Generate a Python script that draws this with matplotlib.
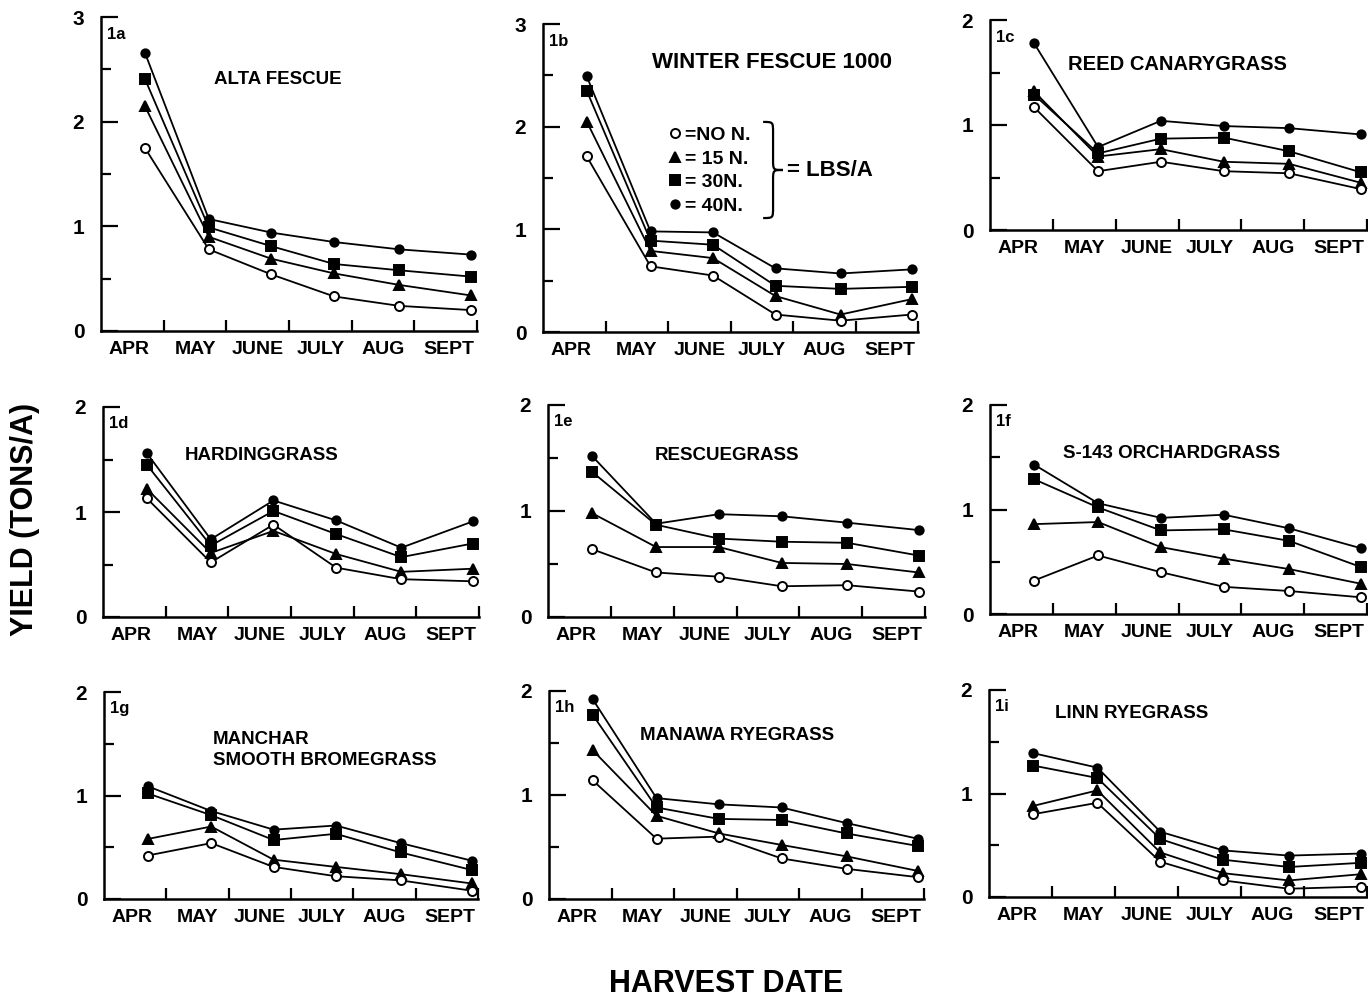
import matplotlib
matplotlib.use("Agg")
import matplotlib.pyplot as plt
from matplotlib.lines import Line2D
from matplotlib.path import Path
from matplotlib.patches import PathPatch

## data ##

MONTHS = ["APR", "MAY", "JUNE", "JULY", "AUG", "SEPT"]
# harvest position along the month axis (month slots 0..6)
HARVEST_X = [0.7, 1.72, 2.72, 3.72, 4.76, 5.9]
RATES = ["NO N.", "15 N.", "30N.", "40N."]

# rows: no N, 15 N, 30 N, 40 N  (tons/A)
alta_fescue = [[1.75, 0.78, 0.54, 0.33, 0.24, 0.20],
               [2.15, 0.90, 0.69, 0.55, 0.44, 0.34],
               [2.41, 0.99, 0.81, 0.64, 0.58, 0.52],
               [2.66, 1.07, 0.94, 0.85, 0.78, 0.73]]
winter_fescue = [[1.71, 0.64, 0.55, 0.17, 0.11, 0.17],
                 [2.05, 0.79, 0.72, 0.35, 0.17, 0.32],
                 [2.35, 0.89, 0.85, 0.45, 0.42, 0.44],
                 [2.49, 0.98, 0.97, 0.62, 0.57, 0.61]]
reed_canarygrass = [[1.17, 0.56, 0.65, 0.56, 0.54, 0.39],
                    [1.32, 0.70, 0.77, 0.65, 0.63, 0.45],
                    [1.29, 0.73, 0.87, 0.88, 0.75, 0.55],
                    [1.78, 0.79, 1.04, 0.99, 0.97, 0.91]]
hardinggrass = [[1.13, 0.52, 0.88, 0.47, 0.36, 0.34],
                [1.22, 0.61, 0.82, 0.60, 0.43, 0.46],
                [1.45, 0.68, 1.01, 0.79, 0.57, 0.70],
                [1.56, 0.74, 1.11, 0.92, 0.66, 0.91]]
rescuegrass = [[0.64, 0.42, 0.38, 0.29, 0.30, 0.24],
               [0.98, 0.66, 0.66, 0.51, 0.50, 0.42],
               [1.37, 0.87, 0.74, 0.71, 0.70, 0.58],
               [1.52, 0.88, 0.97, 0.95, 0.89, 0.82]]
orchardgrass = [[0.32, 0.56, 0.40, 0.26, 0.22, 0.16],
                [0.86, 0.88, 0.64, 0.53, 0.43, 0.29],
                [1.29, 1.02, 0.80, 0.81, 0.70, 0.45],
                [1.43, 1.06, 0.92, 0.95, 0.82, 0.63]]
bromegrass = [[0.42, 0.54, 0.31, 0.22, 0.18, 0.08],
              [0.58, 0.70, 0.38, 0.31, 0.24, 0.15],
              [1.02, 0.81, 0.57, 0.63, 0.45, 0.28],
              [1.09, 0.85, 0.67, 0.71, 0.54, 0.37]]
manawa_ryegrass = [[1.14, 0.58, 0.60, 0.39, 0.29, 0.21],
                   [1.43, 0.80, 0.63, 0.52, 0.41, 0.27],
                   [1.77, 0.88, 0.77, 0.76, 0.63, 0.51],
                   [1.92, 0.97, 0.91, 0.88, 0.73, 0.58]]
linn_ryegrass = [[0.80, 0.91, 0.34, 0.16, 0.08, 0.10],
                 [0.88, 1.03, 0.43, 0.23, 0.16, 0.22],
                 [1.27, 1.15, 0.56, 0.36, 0.29, 0.33],
                 [1.39, 1.25, 0.63, 0.45, 0.40, 0.42]]

PANEL_DATA = [alta_fescue, winter_fescue, reed_canarygrass,
              hardinggrass, rescuegrass, orchardgrass,
              bromegrass, manawa_ryegrass, linn_ryegrass]
PANEL_IDS = ["1a", "1b", "1c", "1d", "1e", "1f", "1g", "1h", "1i"]
TITLES = ["ALTA FESCUE", "WINTER FESCUE 1000", "REED CANARYGRASS",
          "HARDINGGRASS", "RESCUEGRASS", "S-143 ORCHARDGRASS",
          "MANCHAR\nSMOOTH BROMEGRASS", "MANAWA RYEGRASS", "LINN RYEGRASS"]
YMAX = [3, 3, 2, 2, 2, 2, 2, 2, 2]

## layout ##

W, H = 1368, 998
# axes boxes in pixels: left, top, right, bottom
BOXES = [(101, 17, 477, 331), (543, 24, 918, 332), (990, 20, 1367, 230),
         (103, 407, 479, 617), (548, 405, 925, 617), (990, 405, 1367, 614),
         (104, 692, 478, 899), (549, 691, 924, 899), (989, 690, 1367, 897)]
# title anchor (left x, centre y) in pixels, and font size
TITLE_POS = [(214, 79), (652, 62), (1068, 65), (185, 455), (655, 455),
             (1063, 453), (213, 750), (640, 736), (1055, 713)]
TITLE_SIZE = [13.5, 16, 14.5, 13.5, 13.5, 13.5, 13.5, 13.5, 13.5]
LABEL_X = [0.45, 1.5, 2.5, 3.5, 4.5, 5.55]

plt.rcParams['font.family'] = ['Liberation Sans', 'DejaVu Sans']
plt.rcParams['font.weight'] = 'bold'

STYLES = [dict(marker='o', mfc='white', ms=6.5, zorder=4),
          dict(marker='^', mfc='black', ms=7.5, zorder=3),
          dict(marker='s', mfc='black', ms=6.5, zorder=3),
          dict(marker='o', mfc='black', ms=6.0, zorder=3)]

fig = plt.figure(figsize=(W / 100, H / 100), dpi=100)


def setup_axes(ax, ymax):
    ax.set_xlim(0, 6)
    ax.set_ylim(0, ymax)
    for s in ['top', 'right']:
        ax.spines[s].set_visible(False)
    for s in ['left', 'bottom']:
        ax.spines[s].set_linewidth(1.8)
    ax.set_xticks(range(1, 7))
    ax.set_xticklabels([])
    ax.set_xticks(LABEL_X, minor=True)
    ax.set_xticklabels(MONTHS, minor=True, fontsize=14, fontweight='bold')
    ax.tick_params(axis='x', which='major', direction='in', length=8, width=1.6)
    ax.tick_params(axis='x', which='minor', length=0, pad=7)
    ax.set_yticks(range(ymax + 1))
    ax.set_yticklabels([str(v) for v in range(ymax + 1)], fontsize=15, fontweight='bold')
    ax.set_yticks([v + 0.5 for v in range(ymax)], minor=True)
    ax.tick_params(axis='y', which='major', direction='in', length=12, width=1.6, pad=12)
    ax.tick_params(axis='y', which='minor', direction='in', length=7, width=1.6)


axes = []
for i, data in enumerate(PANEL_DATA):
    l, t, r, b = BOXES[i]
    ax = fig.add_axes([l / W, 1 - b / H, (r - l) / W, (b - t) / H])
    setup_axes(ax, YMAX[i])
    for series, st in zip(data, STYLES):
        ax.plot(HARVEST_X, series, color='black', lw=1.3, mec='black', mew=1.4,
                clip_on=False, **st)
    tx, ty = TITLE_POS[i]
    ax.text((tx - l) / (r - l), (b - ty) / (b - t), TITLES[i], transform=ax.transAxes,
            ha='left', va='center', fontsize=TITLE_SIZE[i], fontweight='bold',
            linespacing=1.3)
    ax.annotate(PANEL_IDS[i], xy=(0, 1), xycoords='axes fraction', xytext=(6, -17),
                textcoords='offset pixels', ha='left', va='center',
                fontsize=12, fontweight='bold')
    axes.append(ax)

# legend in panel 1b
ax = axes[1]
handles = [Line2D([], [], linestyle='none', color='black', mec='black', mew=1.4,
                  **{k: v for k, v in st.items() if k != 'zorder'}) for st in STYLES]
labels = ["=NO N.", "= 15 N.", "= 30N.", "= 40N."]
ax.legend(handles, labels, loc='upper left', bbox_to_anchor=(0.335, 0.667),
          frameon=False, handlelength=0.7, handletextpad=0.15, labelspacing=0.3,
          borderpad=0, borderaxespad=0, prop=dict(weight='bold', size=14))

# curly brace grouping the legend entries
x0, w = 0.587, 0.053
yt, ym, yb, d = 0.682, 0.526, 0.370, 0.035
xm = x0 + w / 2
verts = [(x0, yt), (xm, yt), (xm, yt), (xm, yt - d),
         (xm, ym + d),
         (xm, ym), (xm, ym), (x0 + w, ym),
         (xm, ym), (xm, ym), (xm, ym - d),
         (xm, yb + d),
         (xm, yb), (xm, yb), (x0, yb)]
codes = [Path.MOVETO, Path.CURVE4, Path.CURVE4, Path.CURVE4,
         Path.LINETO,
         Path.CURVE4, Path.CURVE4, Path.CURVE4,
         Path.CURVE4, Path.CURVE4, Path.CURVE4,
         Path.LINETO,
         Path.CURVE4, Path.CURVE4, Path.CURVE4]
ax.add_patch(PathPatch(Path(verts, codes), transform=ax.transAxes, fill=False,
                       lw=1.6, color='black', clip_on=False))
ax.text(0.651, 0.523, "= LBS/A", transform=ax.transAxes, ha='left', va='center',
        fontsize=16, fontweight='bold')

fig.text(25 / W, 1 - 519 / H, "YIELD (TONS/A)", rotation=90, ha='center',
         va='center', fontsize=22, fontweight='bold')
fig.text(726 / W, 1 - 984 / H, "HARVEST DATE", ha='center', va='center',
         fontsize=22, fontweight='bold')

fig.savefig('out.png', dpi=100)
